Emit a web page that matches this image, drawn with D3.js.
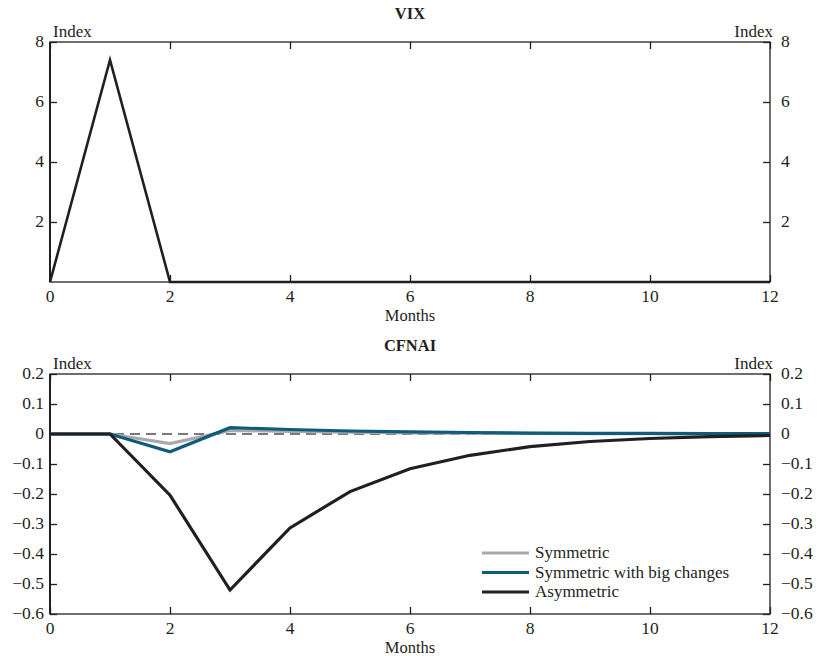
<!DOCTYPE html>
<html>
<head>
<meta charset="utf-8">
<script src="https://cdn.jsdelivr.net/npm/d3@7"></script>
<style>
  body { margin: 0; background: #fff; }
  svg text { font-family: "Liberation Serif", "DejaVu Serif", serif; fill: #231f20; }
</style>
</head>
<body>
<div id="chart"></div>
<script>
// months on the x axis
const months = [0, 1, 2, 3, 4, 5, 6, 7, 8, 9, 10, 11, 12];
const xTicks = [0, 2, 4, 6, 8, 10, 12];

// VIX shock
const vix = [0, 7.4, 0, 0, 0, 0, 0, 0, 0, 0, 0, 0, 0];
const vixTicks = [2, 4, 6, 8];

// CFNAI responses
const symmetric = [0, 0, -0.032, 0.012, 0.009, 0.006, 0.004, 0.003, 0.002, 0.001, 0.001, 0.0, 0.0];
const symmetricBig = [0, 0, -0.059, 0.021, 0.015, 0.01, 0.007, 0.005, 0.003, 0.002, 0.002, 0.001, 0.001];
const asymmetric = [0, 0, -0.204, -0.52, -0.313, -0.192, -0.116, -0.071, -0.042, -0.025, -0.015, -0.009, -0.005];
const cfnaiTicks = [-0.6, -0.5, -0.4, -0.3, -0.2, -0.1, 0, 0.1, 0.2];

const seriesNames = ["Symmetric", "Symmetric with big changes", "Asymmetric"];
const seriesColors = ["#a7a9ac", "#0e5c7a", "#231f20"];

const W = 820, H = 656;
const svg = d3.select("#chart").append("svg").attr("width", W).attr("height", H);

const left = 50, right = 770;
const x = d3.scaleLinear().domain([0, 12]).range([left, right]);

const fmt = v => (v < 0 ? "\u2212" : "") + Math.abs(v).toString();

function panel(top, bottom, yDomain, yTicks, title) {
  const y = d3.scaleLinear().domain(yDomain).range([bottom, top]);
  const g = svg.append("g");

  // frame
  g.append("rect")
    .attr("x", left).attr("y", top)
    .attr("width", right - left).attr("height", bottom - top)
    .attr("fill", "none").attr("stroke", "#231f20").attr("stroke-width", 1.3);

  // x ticks, inward on top and bottom
  g.append("g").attr("transform", `translate(0,${bottom})`)
    .call(d3.axisTop(x).tickValues(xTicks).tickSize(7).tickFormat(""))
    .call(a => a.select(".domain").remove());
  g.append("g").attr("transform", `translate(0,${top})`)
    .call(d3.axisBottom(x).tickValues(xTicks).tickSize(7).tickFormat(""))
    .call(a => a.select(".domain").remove());
  g.selectAll(".tick line").attr("stroke", "#231f20").attr("stroke-width", 1.3);

  // x labels
  g.selectAll(".xl").data(xTicks).enter().append("text")
    .attr("x", d => x(d)).attr("y", bottom + 20)
    .attr("text-anchor", "middle").attr("font-size", 17.5)
    .text(d => d);
  g.append("text").attr("x", (left + right) / 2).attr("y", bottom + 39)
    .attr("text-anchor", "middle").attr("font-size", 16.5).text("Months");

  // y ticks both sides, inward
  const yl = g.append("g").attr("transform", `translate(${left},0)`)
    .call(d3.axisRight(y).tickValues(yTicks).tickSize(7).tickFormat(""));
  const yr = g.append("g").attr("transform", `translate(${right},0)`)
    .call(d3.axisLeft(y).tickValues(yTicks).tickSize(7).tickFormat(""));
  [yl, yr].forEach(a => {
    a.select(".domain").remove();
    a.selectAll(".tick line").attr("stroke", "#231f20").attr("stroke-width", 1.3);
  });
  g.append("line").attr("x1", left).attr("x2", left).attr("y1", top).attr("y2", bottom)
    .attr("stroke", "#231f20").attr("stroke-width", 2);

  g.selectAll(".ylL").data(yTicks).enter().append("text")
    .attr("x", left - 6).attr("y", d => y(d) + 5)
    .attr("text-anchor", "end").attr("font-size", 17.5).text(fmt);
  g.selectAll(".ylR").data(yTicks).enter().append("text")
    .attr("x", right + 11).attr("y", d => y(d) + 5)
    .attr("text-anchor", "start").attr("font-size", 17.5).text(fmt);

  g.append("text").attr("x", left + 3).attr("y", top - 5).attr("font-size", 17).text("Index");
  g.append("text").attr("x", right + 3).attr("y", top - 5)
    .attr("text-anchor", "end").attr("font-size", 17).text("Index");

  g.append("text").attr("x", (left + right) / 2).attr("y", top - 23)
    .attr("text-anchor", "middle").attr("font-size", 16.5).attr("font-weight", "bold").text(title);

  return { g, y };
}

// VIX panel
const p1 = panel(42, 282, [0, 8], vixTicks, "VIX");
p1.g.append("path")
  .datum(months.map((m, i) => [m, vix[i]]))
  .attr("fill", "none").attr("stroke", "#231f20").attr("stroke-width", 2.6)
  .attr("stroke-linejoin", "miter")
  .attr("d", d3.line().x(d => x(d[0])).y(d => p1.y(d[1])));

// CFNAI panel
const p2 = panel(374, 614, [-0.6, 0.2], cfnaiTicks, "CFNAI");
p2.g.append("line")
  .attr("x1", x(0)).attr("x2", x(12)).attr("y1", p2.y(0)).attr("y2", p2.y(0))
  .attr("stroke", "#4d4d4f").attr("stroke-width", 1.6).attr("stroke-dasharray", "10,6");

const line2 = d3.line().x(d => x(d[0])).y(d => p2.y(d[1]));
[symmetric, symmetricBig, asymmetric].forEach((s, k) => {
  p2.g.append("path")
    .datum(months.map((m, i) => [m, s[i]]))
    .attr("fill", "none").attr("stroke", seriesColors[k]).attr("stroke-width", 3.2)
    .attr("d", line2);
});

// legend
const lg = p2.g.append("g");
seriesNames.forEach((n, k) => {
  const yy = 553 + k * 19.5;
  lg.append("line").attr("x1", 482).attr("x2", 529).attr("y1", yy).attr("y2", yy)
    .attr("stroke", seriesColors[k]).attr("stroke-width", 3);
  lg.append("text").attr("x", 535).attr("y", yy + 5).attr("font-size", 17).text(n);
});
</script>
</body>
</html>
